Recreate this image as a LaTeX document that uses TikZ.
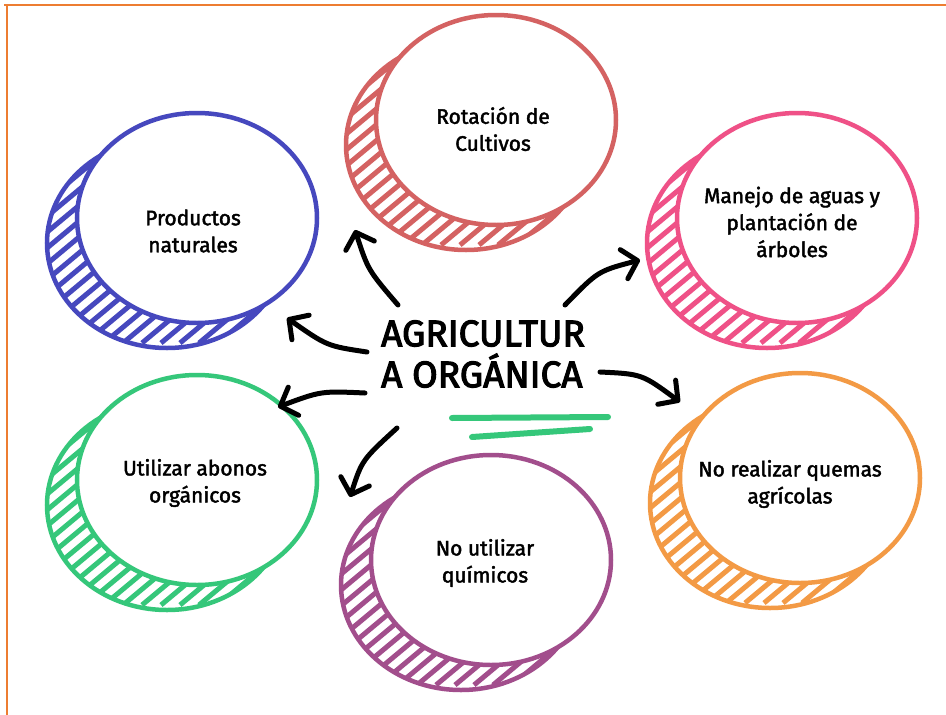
\documentclass[tikz,border=0pt]{standalone}
\usepackage{fontspec}
\setmainfont{Fira Sans}
\newfontfamily\hand[FakeBold=2]{Fira Sans}
\newfontfamily\handtitle[FakeBold=3]{Fira Sans}
\usetikzlibrary{arrows.meta,shapes.geometric}
\definecolor{cblue}{HTML}{4648BE}
\definecolor{cred}{HTML}{D46262}
\definecolor{cpink}{HTML}{EF5187}
\definecolor{corange}{HTML}{F39A45}
\definecolor{cpurple}{HTML}{A24E8C}
\definecolor{cgreen}{HTML}{35C77A}
\definecolor{cborder}{HTML}{ED7D31}
\tikzset{
  front/.style={ellipse, minimum width=240pt, minimum height=210pt, inner sep=0pt,
    fill=white, line width=4.5pt},
  txt/.style={align=center, font=\hand\fontsize{21}{27}\selectfont, text=black},
  hatchline/.style={line width=5pt},
  backring/.style={line width=4.5pt},
  arr/.style={line width=5pt, line cap=round, black,
    -{Straight Barb[length=14pt,width=30pt,round]}},
  under/.style={line width=6pt, line cap=round, cgreen},
}
\newcommand{\mybubble}[5]{%
  \begin{scope}
    \clip (#2-30,#3+25) ellipse [x radius=120pt, y radius=105pt];
    \foreach \i in {-15,...,15}
      \draw[hatchline, #4] (#2-30+\i*19-120, #3+25+100) -- ++(240,-200);
  \end{scope}
  \draw[backring, #4] (#2-30,#3+25) ellipse [x radius=120pt, y radius=105pt];
  \node[front, draw=#4] (#1) at (#2,#3) {};
}
\begin{document}
\begin{tikzpicture}[x=1pt,y=-1pt]
\useasboundingbox (0,0) rectangle (946,715);
\fill[white] (0,0) rectangle (946,715);
% border
\draw[cborder, line width=2pt] (4,5) -- (946,5);
\draw[cborder, line width=1.6pt] (7,5) -- (7,715);

% bubbles
\mybubble{prod}{197}{218}{cblue}{}
\mybubble{rot}{496}{120}{cred}{}
\mybubble{man}{797}{218}{cpink}{}
\mybubble{que}{800}{478}{corange}{}
\mybubble{qui}{491}{560}{cpurple}{}
\mybubble{uti}{197}{480}{cgreen}{}

% texts
\node[txt] (prodt) at (193,231) {Productos\\naturales};
\node[txt] (rott) at (493,129) {Rotación de\\Cultivos};
\node[txt] (mant) at (792,222) {Manejo de aguas y\\plantación de\\árboles};
\node[txt] (quet) at (790,484) {No realizar quemas\\agrícolas};
\node[txt] (quit) at (485,563) {No utilizar\\químicos};
\node[txt] (utit) at (195,483) {Utilizar abonos\\orgánicos};

% title
\node[align=left, font=\handtitle\fontsize{37}{41}\selectfont, inner sep=0pt] (title) at (483,354)
  {AGRICULTUR\\A ORGÁNICA};

% arrow coordinates
\coordinate (s1) at (398,305); \coordinate (e1) at (355,230);
\coordinate (s2) at (367,352); \coordinate (e2) at (287,318);
\coordinate (s3) at (365,393); \coordinate (e3) at (278,407);
\coordinate (s4) at (397,428); \coordinate (e4) at (350,497);
\coordinate (s5) at (565,305); \coordinate (e5) at (640,260);
\coordinate (s6) at (600,372); \coordinate (e6) at (680,402);

\draw[arr] (s1) .. controls (368,270) .. (e1);
\draw[arr] (s2) .. controls (327,346) .. (e2);
\draw[arr] (s3) .. controls (321,391) .. (e3);
\draw[arr] (s4) .. controls (362,460) .. (e4);
\draw[arr] (s5) .. controls (598,271) .. (e5);
\draw[arr] (s6) .. controls (642,374) .. (e6);

% underline
\coordinate (u1a) at (452,418); \coordinate (u1b) at (608,417);
\coordinate (u2a) at (472,437); \coordinate (u2b) at (590,429);
\draw[under] (u1a) -- (u1b);
\draw[under] (u2a) -- (u2b);
\end{tikzpicture}
\end{document}
